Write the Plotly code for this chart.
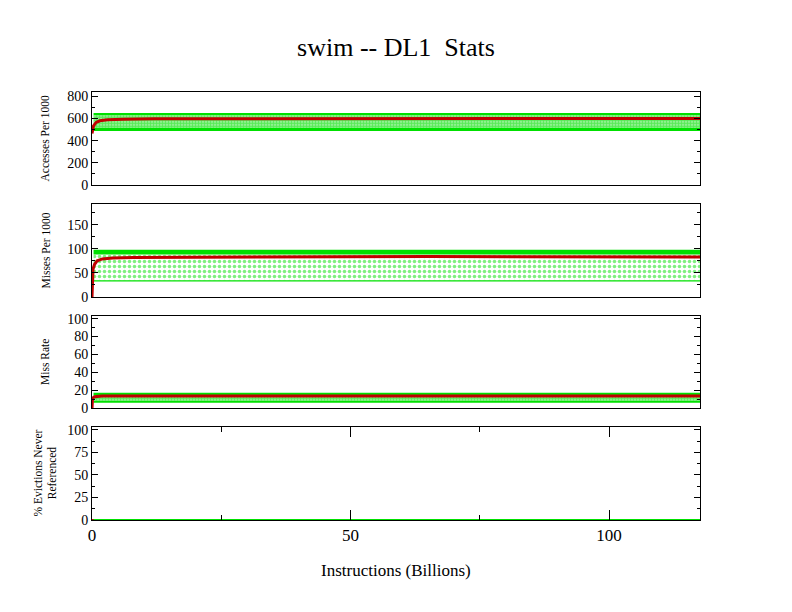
import plotly.graph_objects as go

# x extent of the run (billions of instructions)
x_end = 117.6
x_green = [0.3, x_end]

# green sample cloud per panel: solid bottom band, speckled middle, solid top band
acc_bot = [488, 518]
acc_mid = [518, 630]
acc_top = [630, 650]
miss_bot = [32, 35]
miss_mid = [35, 88]
miss_top = [88, 98]
rate_bot = [6, 8]
rate_mid = [8, 14]
rate_top = [14, 17]
evict_green = [0, 0]

# red running average
acc_x = [0, 0.3, 0.8, 1.5, 3, 6, 12, 40, 80, x_end]
acc_y = [465, 535, 565, 580, 590, 595, 598, 600, 601, 601]
miss_x = [0, 0.2, 0.5, 1, 2, 4, 8, 40, 65, x_end]
miss_y = [0, 58, 68, 75, 79, 81, 82, 83, 84, 83]
rate_x = [0, 0.1, 0.5, 2, 10, x_end]
rate_y = [0, 11, 12.5, 13.3, 13.5, 13.5]
evict_x = [0, x_end]
evict_y = [0, 0]

ylabels = ["Accesses Per 1000", "Misses Per 1000", "Miss Rate",
           "% Evictions Never<br>Referenced"]
yranges = [[0, 840], [0, 193], [0, 103], [0, 103]]
ydticks = [200, 50, 20, 25]

GREEN = "#00e000"
RED = "#c00000"
FONT = "Liberation Serif"

fig = go.Figure()

# panel pixel boxes (top, bottom) in a 612 px tall page
boxes = [(92, 185), (204, 297), (316, 408), (427, 520)]
W, H = 792.0, 612.0


def band(ax, lo, hi, color, pattern=None):
    fig.add_trace(go.Scatter(x=x_green, y=[lo, lo], mode="lines", line=dict(width=0),
                             xaxis="x" + ax, yaxis="y" + ax, showlegend=False,
                             hoverinfo="skip"))
    kw = dict(fillcolor=color)
    if pattern:
        kw = dict(fillpattern=pattern)
    fig.add_trace(go.Scatter(x=x_green, y=[hi, hi], mode="lines", line=dict(width=0),
                             fill="tonexty", xaxis="x" + ax, yaxis="y" + ax,
                             showlegend=False, hoverinfo="skip", **kw))


# speckle density differs per panel (dense top/bottom panels, sparse misses panel)
specks = [dict(shape=".", fgcolor=GREEN, bgcolor="rgba(0,224,0,0.3)", size=3, solidity=0.7),
          dict(shape=".", fgcolor=GREEN, bgcolor="rgba(0,0,0,0)", size=5, solidity=0.4),
          dict(shape=".", fgcolor=GREEN, bgcolor="rgba(0,224,0,0.3)", size=3, solidity=0.7)]

bands = [(acc_bot, acc_mid, acc_top), (miss_bot, miss_mid, miss_top),
         (rate_bot, rate_mid, rate_top)]
reds = [(acc_x, acc_y), (miss_x, miss_y), (rate_x, rate_y), (evict_x, evict_y)]

for i in range(4):
    ax = "" if i == 0 else str(i + 1)
    if i < 3:
        b, m, t = bands[i]
        band(ax, m[0], m[1], None, specks[i])
        band(ax, b[0], b[1], GREEN)
        band(ax, t[0], t[1], GREEN)
    rx, ry = reds[i]
    fig.add_trace(go.Scatter(x=rx, y=ry, mode="lines", line=dict(color=RED, width=3 if i < 3 else 2),
                             xaxis="x" + ax, yaxis="y" + ax, showlegend=False))
    if i == 3:
        fig.add_trace(go.Scatter(x=x_green, y=evict_green, mode="lines",
                                 line=dict(color=GREEN, width=2),
                                 xaxis="x" + ax, yaxis="y" + ax, showlegend=False))

layout = dict(
    width=792, height=612,
    margin=dict(l=0, r=0, t=0, b=0),
    paper_bgcolor="white", plot_bgcolor="white",
    font=dict(family=FONT, color="black"),
    title=dict(text="swim -- DL1\u00a0 Stats", x=0.5, xanchor="center",
               y=1 - 47 / H, yanchor="middle", font=dict(size=26, family=FONT)),
    annotations=[dict(text="Instructions (Billions)", xref="paper", yref="paper",
                      x=(92 + 700) / 2 / W, y=1 - 570 / H, xanchor="center",
                      yanchor="middle", showarrow=False, font=dict(size=17, family=FONT))],
)

for i in range(4):
    top, bot = boxes[i]
    n = "" if i == 0 else str(i + 1)
    dom = [1 - bot / H, 1 - top / H]
    xa = dict(domain=[92 / W, 700 / W], range=[0, x_end], showline=True, linecolor="black",
              linewidth=1, mirror=True, showgrid=False, zeroline=False,
              anchor="y" + n, automargin=False)
    if i == 3:
        xa.update(tickvals=[0, 50, 100], ticks="inside", ticklen=10, tickcolor="black",
                  mirror="allticks", tickfont=dict(size=17, family=FONT),
                  minor=dict(ticks="inside", dtick=25, ticklen=5, tickcolor="black"))
    else:
        xa.update(showticklabels=False, ticks="")
    ya = dict(domain=dom, range=yranges[i], dtick=ydticks[i], tick0=0, showline=True,
              linecolor="black", linewidth=1, mirror="allticks", ticks="inside",
              ticklen=6, tickcolor="black", showgrid=False, zeroline=False,
              tickfont=dict(size=14, family=FONT), anchor="x" + n, automargin=False,
              minor=dict(ticks="inside", dtick=ydticks[i] / 2, ticklen=3, tickcolor="black"))
    layout["xaxis" + n] = xa
    layout["yaxis" + n] = ya
    layout["annotations"].append(dict(
        text=ylabels[i], xref="paper", yref="paper", x=45 / W, y=1 - (top + bot) / 2 / H,
        xanchor="center", yanchor="middle", textangle=-90, showarrow=False,
        font=dict(size=11.5, family=FONT)))

fig.update_layout(**layout)
# drop the page's default body margin so the figure sits at the window's corner
fig.write_html("out.html", config={"displayModeBar": False},
               post_script="document.body.style.margin='0';")
